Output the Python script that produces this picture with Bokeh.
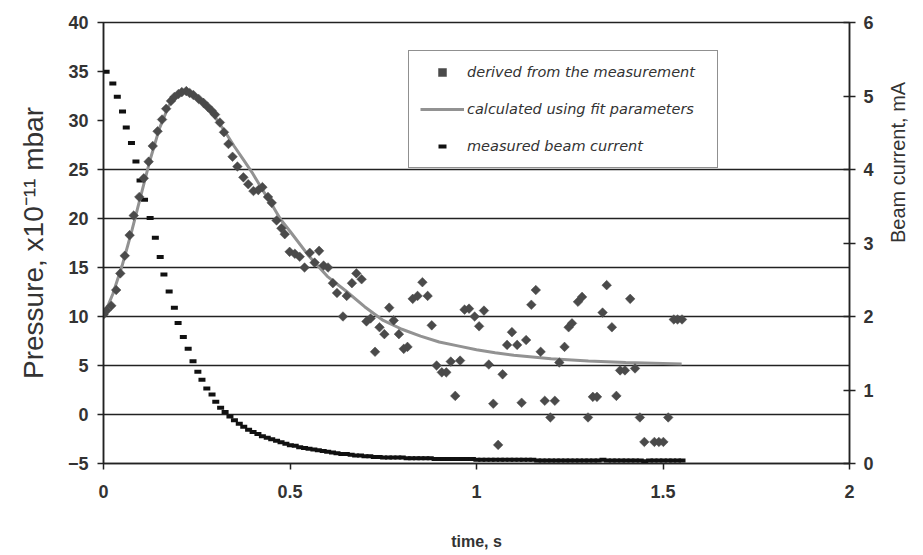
import math
from bokeh.plotting import figure
from bokeh.models import Range1d, LinearAxis, FixedTicker, Legend, LegendItem, ColumnDataSource
from bokeh.embed import file_html
from bokeh.resources import INLINE

# ---- data ----
derived_t = [
    0.000, 0.008, 0.021, 0.034, 0.045, 0.057, 0.070, 0.081, 0.096, 0.108,
    0.121, 0.132, 0.145, 0.157, 0.168, 0.181, 0.190, 0.201, 0.210, 0.222,
    0.231, 0.241, 0.255, 0.268, 0.279, 0.290, 0.299, 0.312, 0.323, 0.335,
    0.346, 0.359, 0.375, 0.388, 0.402, 0.415, 0.426, 0.441, 0.451, 0.464,
    0.477, 0.486, 0.499, 0.513, 0.526, 0.539, 0.553, 0.566, 0.578, 0.590,
    0.602, 0.615, 0.626, 0.642, 0.652, 0.666, 0.678, 0.692, 0.705, 0.716,
    0.728, 0.740, 0.753, 0.766, 0.778, 0.792, 0.805, 0.815, 0.829, 0.842,
    0.855, 0.869, 0.880, 0.893, 0.907, 0.919, 0.931, 0.943, 0.956, 0.968,
    0.980, 0.995, 1.007, 1.020, 1.033, 1.045, 1.058, 1.070, 1.082, 1.095,
    1.109, 1.121, 1.133, 1.147, 1.159, 1.172, 1.183, 1.198, 1.210, 1.222,
    1.236, 1.247, 1.256, 1.272, 1.283, 1.299, 1.312, 1.323, 1.338, 1.349,
    1.363, 1.375, 1.385, 1.398, 1.412, 1.425, 1.438, 1.450, 1.477, 1.489,
    1.501, 1.514, 1.529, 1.539, 1.551,
]
derived_p = [
    10.2, 10.6, 11.1, 12.7, 14.4, 16.2, 18.3, 20.3, 22.2, 24.1,
    25.8, 27.4, 28.9, 30.1, 31.2, 32.0, 32.4, 32.7, 32.9, 33.0,
    32.8, 32.6, 32.2, 31.8, 31.4, 31.0, 30.6, 29.8, 28.8, 27.6,
    26.3, 25.3, 24.2, 23.5, 22.8, 22.9, 23.2, 22.2, 21.6, 19.8,
    19.0, 18.4, 16.6, 16.4, 16.1, 15.0, 16.5, 15.5, 16.7, 15.2,
    15.0, 13.4, 12.4, 10.0, 12.1, 13.4, 14.4, 13.8, 9.5, 9.8,
    6.4, 8.9, 8.2, 10.9, 9.6, 8.2, 6.7, 6.9, 11.8, 12.1,
    13.5, 12.1, 9.1, 5.0, 4.3, 4.3, 5.4, 1.9, 5.5, 10.7,
    10.8, 10.0, 9.0, 10.6, 5.1, 1.1, -3.1, 4.1, 7.1, 8.4,
    7.1, 1.2, 7.6, 11.2, 12.7, 6.4, 1.4, -0.3, 1.4, 5.3,
    6.9, 8.9, 9.3, 11.5, 12.0, -0.3, 1.8, 1.8, 10.4, 13.2,
    8.9, 1.9, 4.5, 4.5, 11.8, 4.7, -0.3, -2.8, -2.8, -2.8,
    -2.8, -0.3, 9.7, 9.7, 9.7,
]

fit_t = [0.000, 0.025, 0.050, 0.075, 0.100, 0.125, 0.150, 0.175, 0.200, 0.225,
         0.250, 0.275, 0.300, 0.325, 0.350, 0.375, 0.400, 0.425, 0.450, 0.475,
         0.500, 0.550, 0.600, 0.650, 0.700, 0.750, 0.800, 0.850, 0.900, 0.950,
         1.000, 1.050, 1.100, 1.200, 1.300, 1.400, 1.500, 1.550]
fit_p = [10.0, 12.3, 15.2, 18.6, 22.3, 26.0, 29.2, 31.5, 32.8, 33.0,
         32.5, 31.6, 30.3, 28.9, 27.4, 26.0, 24.6, 23.0, 21.5, 19.9,
         18.7, 16.2, 14.1, 12.6, 11.0, 9.6, 8.7, 8.0, 7.4, 7.0,
         6.6, 6.3, 6.05, 5.7, 5.45, 5.3, 5.2, 5.15]

beam_t = [
    0.007, 0.025, 0.037, 0.051, 0.061, 0.075, 0.087, 0.098, 0.110, 0.125,
    0.139, 0.152, 0.162, 0.176, 0.190, 0.200, 0.214, 0.227, 0.240, 0.253,
    0.264, 0.277, 0.291, 0.301,
    0.314, 0.326, 0.339, 0.351, 0.364, 0.376, 0.389, 0.401, 0.414, 0.426,
    0.439, 0.451, 0.464, 0.476, 0.489, 0.501, 0.514, 0.526, 0.539, 0.551,
    0.564, 0.576, 0.589, 0.601, 0.614, 0.626, 0.639, 0.651, 0.664, 0.676,
    0.689, 0.701, 0.714, 0.726, 0.739, 0.751, 0.764, 0.776, 0.789, 0.801,
    0.814, 0.826, 0.839, 0.851, 0.864, 0.876, 0.889, 0.901, 0.914, 0.926,
    0.939, 0.951, 0.964, 0.976, 0.989, 1.001, 1.014, 1.026, 1.039, 1.051,
    1.064, 1.076, 1.089, 1.101, 1.114, 1.126, 1.139, 1.151, 1.164, 1.176,
    1.189, 1.201, 1.214, 1.226, 1.239, 1.251, 1.264, 1.276, 1.289, 1.301,
    1.314, 1.326, 1.339, 1.351, 1.364, 1.376, 1.389, 1.401, 1.414, 1.426,
    1.439, 1.451, 1.464, 1.476, 1.489, 1.501, 1.514, 1.526, 1.539, 1.551,
]
beam_ma = [
    5.33, 5.17, 4.99, 4.79, 4.57, 4.36, 4.11, 3.85, 3.59, 3.34,
    3.07, 2.81, 2.57, 2.34, 2.12, 1.91, 1.72, 1.56, 1.39, 1.25,
    1.14, 1.02, 0.94, 0.84,
    0.76, 0.70, 0.64, 0.59, 0.54, 0.50, 0.46, 0.43, 0.40, 0.37,
    0.35, 0.33, 0.31, 0.29, 0.27, 0.25, 0.24, 0.22, 0.21, 0.20,
    0.19, 0.18, 0.17, 0.16, 0.15, 0.14, 0.13, 0.13, 0.12, 0.11,
    0.11, 0.10, 0.10, 0.09, 0.09, 0.08, 0.08, 0.08, 0.08, 0.08,
    0.07, 0.07, 0.07, 0.07, 0.07, 0.07, 0.06, 0.06, 0.06, 0.06,
    0.06, 0.06, 0.06, 0.06, 0.06, 0.05, 0.05, 0.05, 0.05, 0.05,
    0.05, 0.05, 0.05, 0.05, 0.05, 0.05, 0.05, 0.05, 0.04, 0.04,
    0.04, 0.04, 0.04, 0.04, 0.04, 0.04, 0.04, 0.04, 0.04, 0.04,
    0.04, 0.04, 0.05, 0.04, 0.04, 0.04, 0.04, 0.04, 0.04, 0.04,
    0.04, 0.03, 0.04, 0.04, 0.04, 0.04, 0.04, 0.04, 0.04, 0.04,
]

pressure_ticks = [-5, 0, 5, 10, 15, 20, 25, 30, 35, 40]
grid_levels = [0, 5, 10, 15, 20, 25]
beam_ticks = [0, 1, 2, 3, 4, 5, 6]
time_ticks = [0, 0.5, 1, 1.5, 2]
time_tick_labels = ["0", "0.5", "1", "1.5", "2"]

FONT = "Liberation Sans"
INK = "#222222"
TXT = "#333333"

p = figure(width=922, height=554, x_range=Range1d(0, 2), y_range=Range1d(-5, 40),
           output_backend="svg", toolbar_location=None,
           min_border_left=103, min_border_right=70, min_border_top=22, min_border_bottom=91)
p.extra_y_ranges = {"beam": Range1d(0, 6)}
p.background_fill_color = "white"
p.border_fill_color = "white"
p.outline_line_color = INK
p.outline_line_width = 1.5

p.xgrid.visible = False
p.ygrid.ticker = FixedTicker(ticks=grid_levels)
p.ygrid.grid_line_color = INK
p.ygrid.grid_line_width = 1.4

def style_axis(ax):
    ax.axis_line_color = INK
    ax.axis_line_width = 1.5
    ax.major_tick_line_color = INK
    ax.major_tick_line_width = 1.5
    ax.minor_tick_line_color = None
    ax.major_tick_out = 6
    ax.major_tick_in = 0
    ax.major_label_text_font = FONT
    ax.major_label_text_font_style = "bold"
    ax.major_label_text_font_size = "18px"
    ax.major_label_text_color = TXT
    ax.axis_label_text_font = FONT
    ax.axis_label_text_color = TXT

yax = p.yaxis[0]
style_axis(yax)
yax.ticker = FixedTicker(ticks=pressure_ticks)
yax.major_label_standoff = 9
yax.axis_label = "Pressure, x10\u207b\u00b9\u00b9 mbar"
yax.axis_label_text_font_size = "28px"
yax.axis_label_text_font_style = "normal"
yax.axis_label_standoff = 16

xax = p.xaxis[0]
style_axis(xax)
xax.ticker = FixedTicker(ticks=time_ticks)
xax.major_label_overrides = {t: s for t, s in zip(time_ticks, time_tick_labels)}
xax.major_label_standoff = 15
xax.axis_label = "time, s"
xax.axis_label_text_font_size = "16px"
xax.axis_label_text_font_style = "bold"
xax.axis_label_standoff = 32

rax = LinearAxis(y_range_name="beam")
style_axis(rax)
rax.ticker = FixedTicker(ticks=beam_ticks)
rax.major_tick_in = 6
rax.major_label_standoff = 8
rax.axis_label = "Beam current, mA"
rax.axis_label_text_font_size = "20px"
rax.axis_label_text_font_style = "normal"
rax.axis_label_standoff = 21
rax.axis_label_orientation = math.pi / 2
p.add_layout(rax, "right")

fit_src = ColumnDataSource(dict(t=fit_t, p=fit_p))
der_src = ColumnDataSource(dict(t=derived_t, p=derived_p))
beam_src = ColumnDataSource(dict(t=beam_t, i=beam_ma))

r_beam = p.scatter("t", "i", source=beam_src, y_range_name="beam", marker="dash",
                   size=7, line_width=4, line_color="#111111")
r_fit = p.line("t", "p", source=fit_src, line_color="#929292", line_width=3)
r_der = p.scatter("t", "p", source=der_src, marker="square", angle=math.pi / 4,
                  size=6.8, fill_color="#4a4a4a", line_color="#4a4a4a", line_width=0.5)

legend = Legend(items=[
    LegendItem(label="derived from the measurement", renderers=[r_der]),
    LegendItem(label="calculated using fit parameters", renderers=[r_fit]),
    LegendItem(label="measured beam current", renderers=[r_beam]),
], location=(305, 295), padding=11, glyph_width=44, glyph_height=20,
   label_standoff=3, label_width=239, spacing=17, margin=0,
   label_text_font="DejaVu Sans", label_text_font_style="italic", label_text_font_size="14.5px",
   label_text_color=TXT, border_line_color=INK, border_line_width=1.5,
   background_fill_color="white", background_fill_alpha=1.0)
p.add_layout(legend)

open("out.html", "w").write(file_html(p, INLINE))
